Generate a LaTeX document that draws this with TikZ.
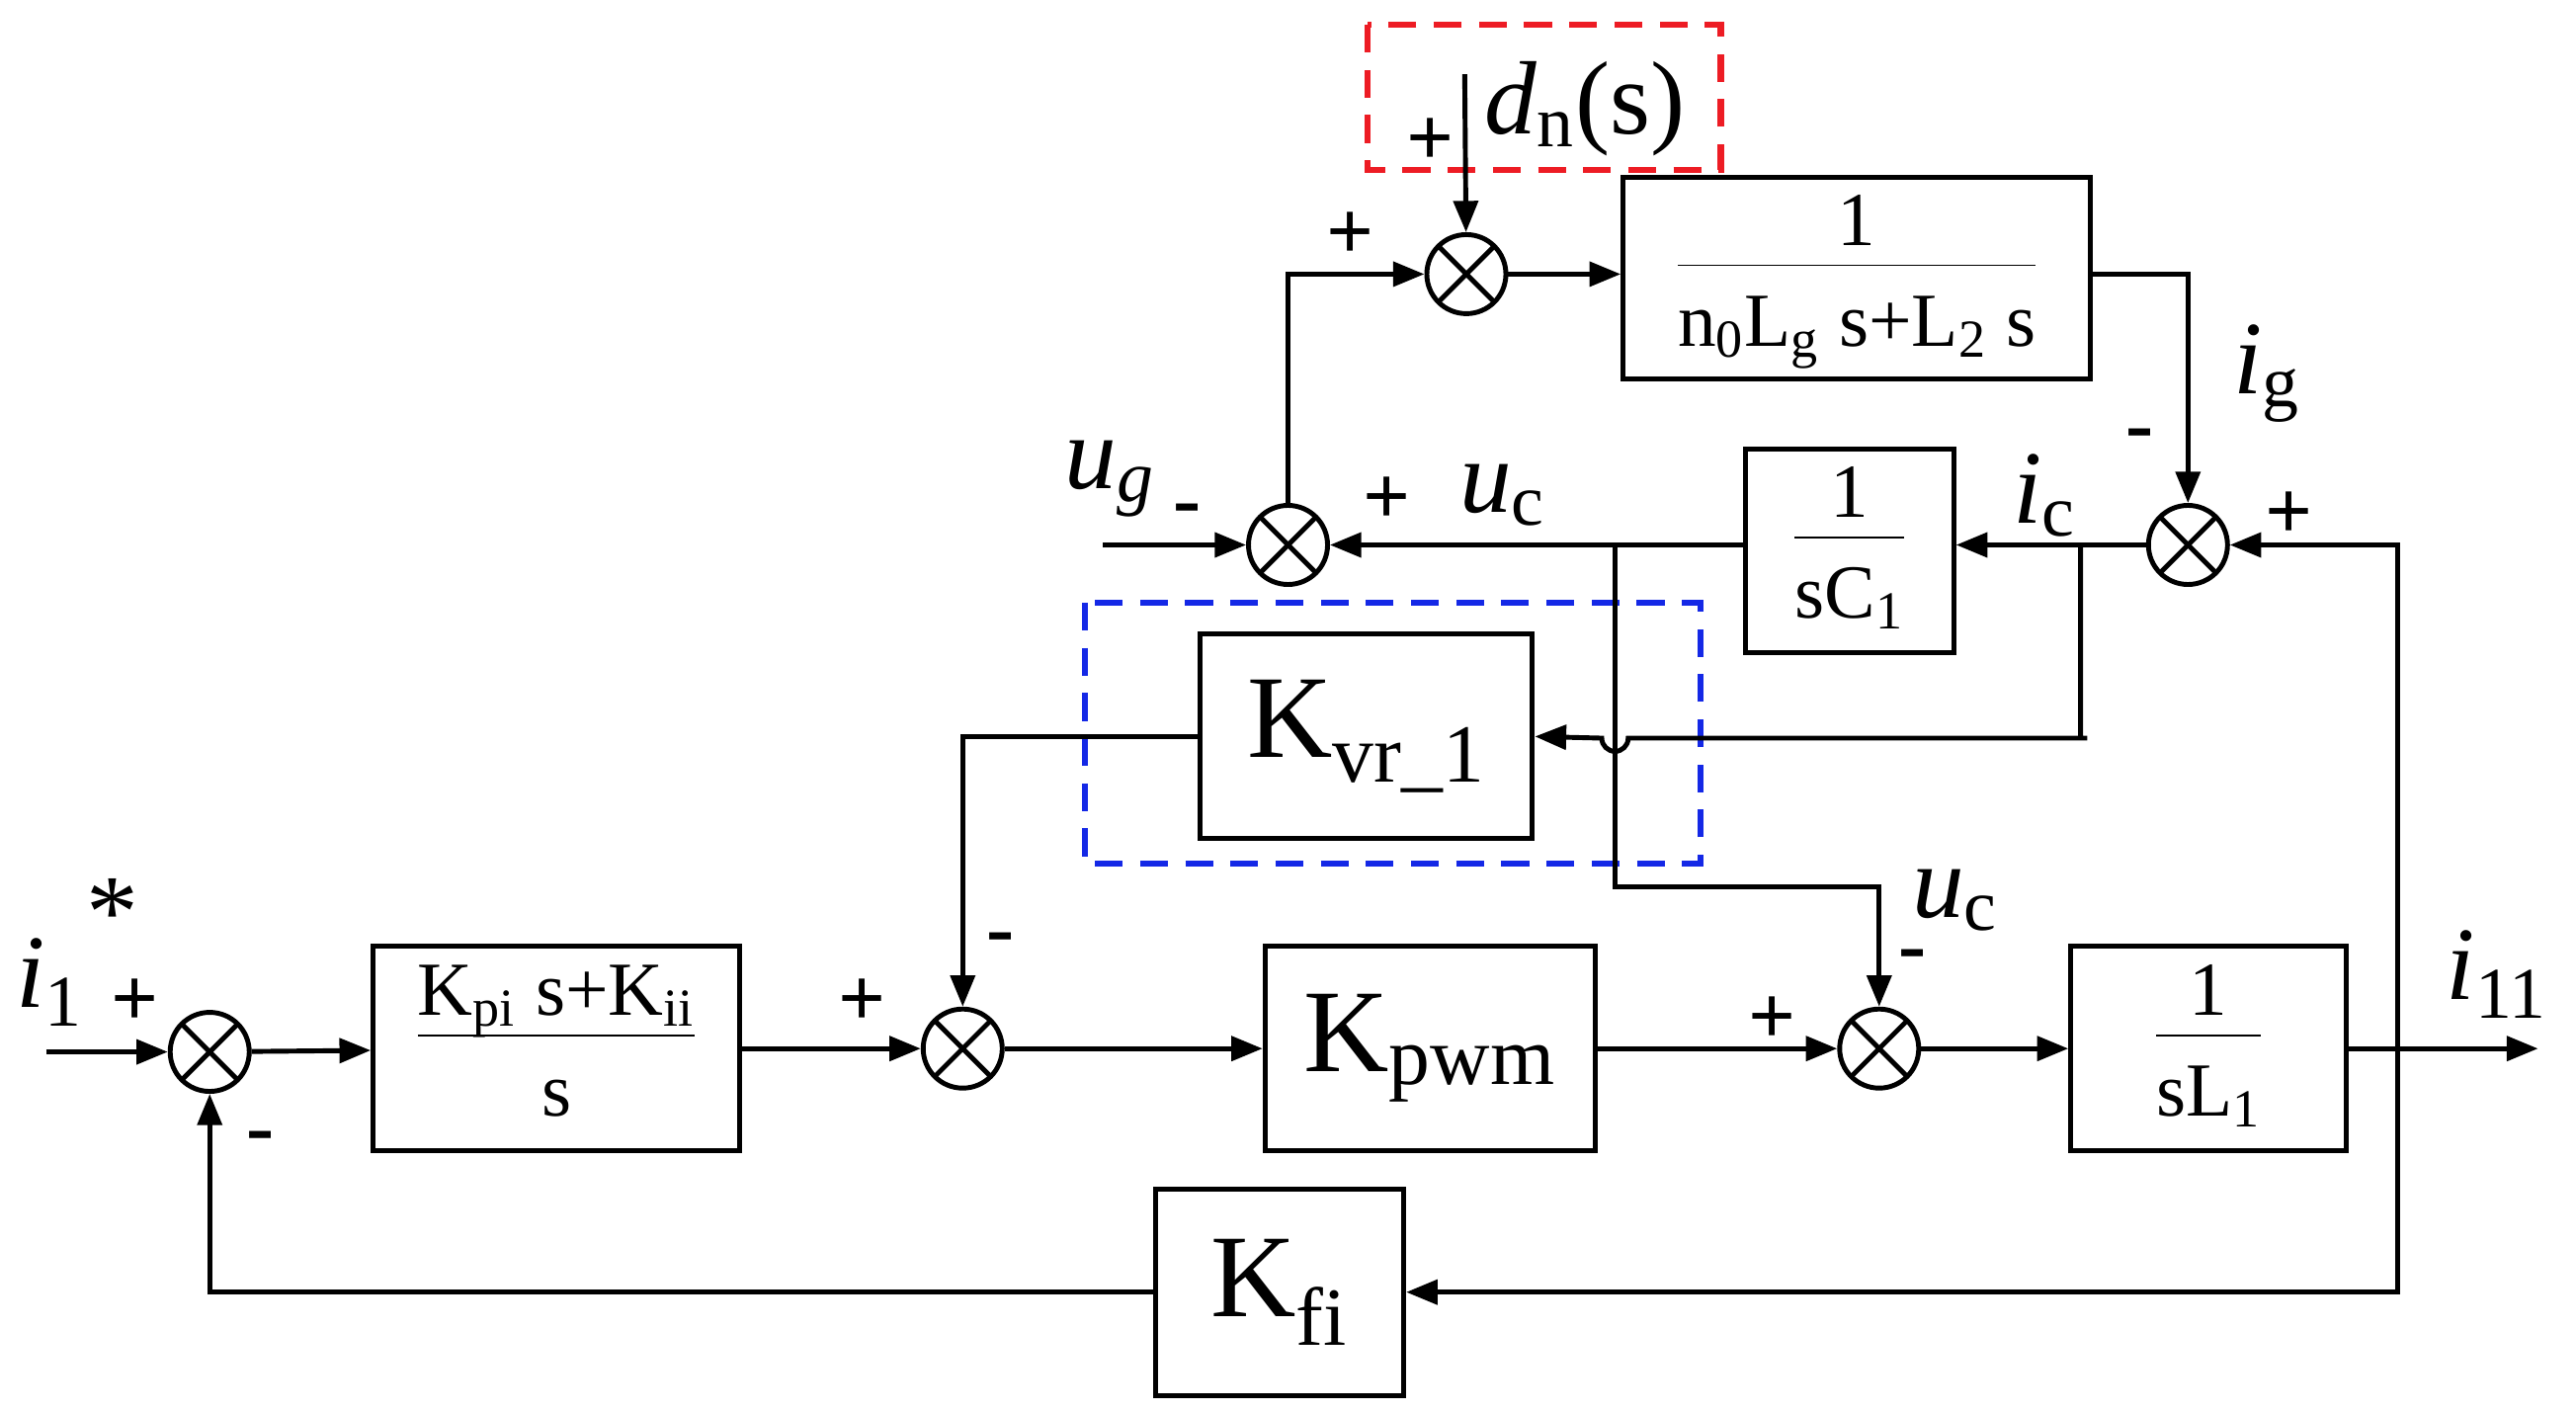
\documentclass[tikz,border=0pt]{standalone}
\usepackage{fontspec}
\setmainfont{Liberation Serif}
\usetikzlibrary{arrows.meta,positioning}
\definecolor{boxred}{RGB}{237,28,36}
\definecolor{boxblue}{RGB}{20,40,230}
\newcommand{\fracblk}[2]{\begin{tabular}{@{}c@{}}#1\\[-2pt]\hline\rule{0pt}{1.05em}#2\end{tabular}}
\newcommand{\sub}[1]{\textsubscript{#1}}
\tikzset{
  block/.style={draw,line width=1.4pt,font=\fontsize{34}{38}\selectfont,inner sep=2pt},
  fblock/.style={block,font=\fontsize{22}{25}\selectfont},
  sum/.style={draw,circle,line width=1.4pt,minimum size=0.8cm,inner sep=0pt,
    path picture={\draw[line width=1.4pt]
      (path picture bounding box.north west) -- (path picture bounding box.south east)
      (path picture bounding box.north east) -- (path picture bounding box.south west);}},
  sig/.style={line width=1.4pt,-{Triangle[length=9pt,width=7pt]}},
  wire/.style={line width=1.4pt},
  lbl/.style={font=\fontsize{30}{34}\selectfont},
  sgn/.style={font=\bfseries\fontsize{24}{28}\selectfont}
}
\begin{document}
\begin{tikzpicture}[x=0.01671cm,y=-0.01671cm]
\useasboundingbox (0,0) rectangle (1560,855);
% dashed groups
\draw[boxred,dashed,line width=1.8pt,dash pattern=on 8pt off 5pt] (828,15) rectangle (1042,103);
\draw[boxblue,dashed,line width=1.8pt,dash pattern=on 8pt off 5pt] (657,365) rectangle (1030,523);
% blocks
\node[fblock,minimum width=4.73cm,minimum height=1.72cm] (gl) at (1124.5,168.5) {\fracblk{1}{n\sub{0}L\sub{g} s+L\sub{2} s}};
\node[fblock,minimum width=2.11cm,minimum height=2.06cm] (gc) at (1120,333.5) {\fracblk{1}{sC\sub{1}}};
\node[block,minimum width=3.36cm,minimum height=2.07cm] (kvr) at (827.5,446) {K\sub{vr\_1}};
\node[fblock,minimum width=3.71cm,minimum height=2.07cm] (kpi) at (337,635) {\fracblk{K\sub{pi} s+K\sub{ii}}{s}};
\node[block,minimum width=3.34cm,minimum height=2.07cm] (kpwm) at (866,635) {K\sub{pwm}};
\node[fblock,minimum width=2.79cm,minimum height=2.07cm] (gl1) at (1337.5,635) {\fracblk{1}{sL\sub{1}}};
\node[block,minimum width=2.51cm,minimum height=2.09cm] (kfi) at (775,782.5) {K\sub{fi}};
% sums
\node[sum] (s1) at (888,166) {};
\node[sum] (s2) at (780,330) {};
\node[sum] (s3) at (1325,330) {};
\node[sum] (s0) at (127,637) {};
\node[sum] (s4) at (583,635) {};
\node[sum] (s5) at (1138,635) {};
% free ends
\coordinate (dn) at (887,45);
\coordinate (ug) at (668,330);
\coordinate (iref) at (28,637);
\coordinate (iout) at (1537,635);
\coordinate (jc) at (1260,330);
\coordinate (ju) at (978,330);
\coordinate (jo) at (1452,635);
% connections
\draw[sig] (dn) -- (s1);
\draw[sig] (s1) -- (s1 -| gl.west);
\draw[sig] (gl.east |- s1) -| (s3);
\draw[sig] (s3) -- (s3 -| gc.east);
\draw[sig] (gc.west |- s2) -- (s2);
\draw[sig] (ug) -- (s2);
\draw[sig] (s2) |- (s1);
\draw[sig] (jc) |- (1264,447) -- (986,447) arc[start angle=0,end angle=180,radius=8] -- (kvr.east);
\draw[sig] (ju) |- (1138,537) -- (s5);
\draw[sig] (kvr.west) -| (s4);
\draw[sig] (iref) -- (s0);
\draw[sig] (s0) -- (kpi);
\draw[sig] (kpi) -- (s4);
\draw[sig] (s4) -- (kpwm);
\draw[sig] (kpwm) -- (s5);
\draw[sig] (s5) -- (gl1);
\draw[sig] (gl1) -- (iout);
\draw[sig] (jo) |- (s3);
\draw[sig] (jo) |- (kfi);
\draw[sig] (kfi) -| (s0);
% labels
\node[lbl] (ldn) at (960,66) {\textit{d}\sub{n}(s)};
\node[lbl] (lig) at (1373,226) {\textit{i}\sub{g}};
\node[lbl] (lic) at (1238,300) {\textit{i}\sub{c}};
\node[lbl] (luc) at (910,300) {\textit{u}\sub{c}};
\node[lbl] (lug) at (672,290) {\textit{u\sub{g}}};
\node[lbl] (luc2) at (1184,545) {\textit{u}\sub{c}};
\node[lbl] (lir) at (30,595) {\textit{i}\sub{1}};
\node[lbl] (lst) at (68,553) {*};
\node[lbl] (lio) at (1512,590) {\textit{i}\sub{11}};
% signs
\node[sgn] at (866,86) {+};
\node[sgn] at (818,143) {+};
\node[sgn] at (1296,267) {-};
\node[sgn] at (1386,312) {+};
\node[sgn] at (840,303) {+};
\node[sgn] at (719,312) {-};
\node[sgn] at (606,572) {-};
\node[sgn] at (522,607) {+};
\node[sgn] at (82,607) {+};
\node[sgn] at (158,692) {-};
\node[sgn] at (1073,618) {+};
\node[sgn] at (1158,582) {-};
\end{tikzpicture}
\end{document}
